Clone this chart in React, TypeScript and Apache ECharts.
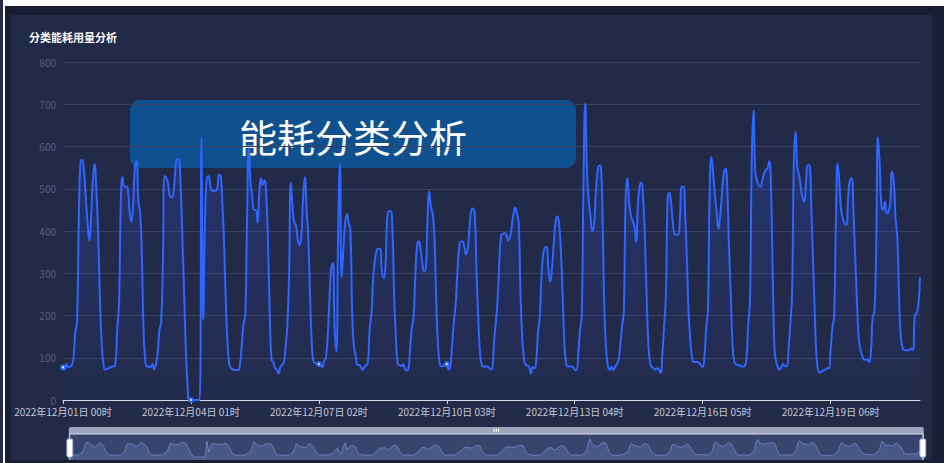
import React, { useEffect, useRef } from "react";
import * as echarts from "echarts";

// Hourly consumption, one array per day (December 2022)
const day01 = [77, 72, 85, 78, 79, 82, 100, 160, 185, 420, 565, 568, 540, 480, 420, 378, 430, 520, 558, 500, 400, 250, 140, 88];
const day02 = [72, 73, 75, 78, 79, 79, 90, 170, 230, 470, 527, 505, 505, 500, 445, 422, 465, 550, 565, 470, 445, 340, 160, 92];
const day03 = [79, 79, 78, 85, 72, 85, 110, 165, 185, 330, 530, 525, 512, 482, 480, 490, 537, 570, 570, 520, 400, 270, 130, 40];
const day04 = [0, 0, 0, 0, 0, 0, 0, 622, 190, 420, 525, 530, 510, 495, 495, 495, 500, 533, 530, 460, 360, 220, 125, 82];
const day05 = [75, 72, 71, 71, 71, 85, 130, 180, 200, 420, 596, 515, 480, 450, 450, 420, 490, 525, 510, 520, 480, 370, 200, 95];
const day06 = [90, 75, 72, 63, 78, 83, 88, 125, 175, 300, 515, 455, 420, 412, 380, 367, 390, 480, 527, 450, 380, 245, 130, 90];
const day07 = [88, 85, 85, 83, 78, 92, 100, 150, 235, 310, 325, 170, 115, 400, 560, 290, 360, 420, 440, 420, 400, 205, 126, 106];
const day08 = [83, 83, 78, 71, 79, 82, 90, 170, 205, 290, 330, 355, 358, 358, 305, 288, 320, 430, 447, 447, 400, 240, 145, 85];
const day09 = [83, 80, 85, 75, 70, 72, 118, 170, 195, 290, 365, 375, 360, 325, 305, 310, 430, 493, 455, 440, 380, 230, 130, 85];
const day10 = [80, 80, 85, 85, 72, 80, 130, 185, 225, 300, 360, 375, 375, 362, 345, 360, 412, 450, 453, 434, 300, 190, 110, 82];
const day11 = [79, 79, 79, 77, 72, 75, 140, 185, 240, 330, 390, 393, 395, 390, 377, 385, 410, 440, 455, 440, 420, 260, 150, 100];
const day12 = [83, 82, 78, 63, 78, 75, 92, 160, 195, 290, 345, 360, 362, 310, 280, 310, 370, 420, 435, 420, 360, 260, 145, 88];
const day13 = [79, 79, 79, 78, 72, 71, 110, 165, 200, 520, 702, 540, 473, 435, 400, 415, 490, 540, 555, 550, 400, 200, 115, 78];
const day14 = [72, 78, 71, 78, 85, 95, 130, 175, 210, 470, 525, 470, 437, 425, 412, 375, 460, 505, 515, 480, 390, 250, 134, 88];
const day15 = [78, 75, 72, 75, 72, 64, 110, 175, 250, 475, 490, 465, 420, 392, 391, 391, 430, 505, 505, 440, 330, 205, 140, 100];
const day16 = [90, 90, 90, 88, 82, 78, 105, 170, 215, 500, 575, 535, 485, 445, 405, 437, 490, 535, 548, 505, 363, 252, 134, 91];
const day17 = [85, 82, 83, 79, 79, 80, 100, 180, 240, 570, 685, 540, 520, 508, 505, 520, 535, 544, 548, 565, 500, 290, 120, 90];
const day18 = [77, 72, 79, 85, 80, 80, 120, 180, 250, 560, 635, 550, 533, 505, 478, 470, 520, 556, 555, 450, 330, 200, 100, 68];
const day19 = [65, 68, 70, 72, 75, 75, 120, 170, 200, 420, 560, 515, 450, 430, 418, 415, 480, 520, 525, 450, 340, 235, 150, 120];
const day20 = [105, 95, 95, 95, 90, 115, 195, 210, 363, 622, 560, 458, 450, 470, 442, 446, 465, 540, 520, 434, 387, 252, 150, 126];
const day21 = [118, 118, 118, 118, 122, 118, 200, 205, 222, 290];

const usage: number[] = [
  ...day01, ...day02, ...day03, ...day04, ...day05, ...day06, ...day07,
  ...day08, ...day09, ...day10, ...day11, ...day12, ...day13, ...day14,
  ...day15, ...day16, ...day17, ...day18, ...day19, ...day20, ...day21,
];

// Hour stamps: 2022年12月DD日 HH时
const pad2 = (n: number) => (n < 10 ? "0" + n : String(n));
const hourLabels: string[] = usage.map(
  (_, i) => `2022年12月${pad2(Math.floor(i / 24) + 1)}日 ${pad2(i % 24)}时`
);

const chartTitle = "分类能耗用量分析";
const bannerText = "能耗分类分析";
const yTicks = { min: 0, max: 800, step: 100 };
const labelEvery = 72;
// labelled hours that carry no marker dot
const unmarkedHours = [292, 365, 438];

const FONT = '"Noto Sans CJK SC", "Noto Sans", sans-serif';

function EnergyChart() {
  const ref = useRef<HTMLDivElement>(null);

  useEffect(() => {
    if (!ref.current) return;
    const chart = echarts.init(ref.current, undefined, { renderer: "svg" });
    const seriesData = usage.map((v, i) =>
      unmarkedHours.indexOf(i) >= 0 ? { value: v, symbol: "none" } : v
    );
    chart.setOption({
      animation: false,
      backgroundColor: "transparent",
      textStyle: { fontFamily: FONT },
      title: {
        text: chartTitle,
        left: 18,
        top: 16,
        padding: 0,
        textStyle: { color: "#ffffff", fontSize: 11, fontWeight: "bold", fontFamily: FONT },
      },
      grid: { left: 52, right: 12, top: 47, bottom: 60 },
      xAxis: {
        type: "category",
        data: hourLabels,
        boundaryGap: false,
        axisLine: { lineStyle: { color: "#d4d8e4", width: 1 } },
        axisTick: { show: true, interval: labelEvery, length: 4, lineStyle: { color: "#d4d8e4" } },
        axisLabel: { interval: labelEvery, color: "#c2c6d2", fontSize: 10, margin: 6, fontFamily: FONT },
        splitLine: { show: false },
      },
      yAxis: {
        type: "value",
        min: yTicks.min,
        max: yTicks.max,
        interval: yTicks.step,
        axisLine: { show: false },
        axisTick: { show: false },
        axisLabel: { color: "#565d7e", fontSize: 10, margin: 7, fontFamily: FONT },
        splitLine: { lineStyle: { color: "#3a4062", width: 1 } },
      },
      dataZoom: [
        {
          type: "slider",
          start: 0,
          end: 100,
          left: 55,
          right: 11,
          top: 412,
          height: 29,
          showDetail: false,
          backgroundColor: "rgba(47,69,84,0)",
          borderColor: "#d2dbee",
          fillerColor: "rgba(135,175,255,0.2)",
          dataBackground: {
            lineStyle: { color: "#d2dbee", width: 0.5 },
            areaStyle: { color: "#d2dbee", opacity: 0.2 },
          },
          selectedDataBackground: {
            lineStyle: { color: "#8fb0f7", width: 0.5 },
            areaStyle: { color: "#8fb0f7", opacity: 0.2 },
          },
          handleIcon:
            "path://M-9.35,34.56V42m0-40V9.5m-2,0h4a2,2,0,0,1,2,2v21a2,2,0,0,1-2,2h-4a2,2,0,0,1-2-2v-21A2,2,0,0,1-11.35,9.5Z",
          handleSize: "100%",
          handleStyle: { color: "#ffffff", borderColor: "#acb8d1" },
          moveHandleSize: 7,
          moveHandleStyle: { color: "#d2dbee", opacity: 0.7 },
        },
      ],
      series: [
        {
          name: chartTitle,
          type: "line",
          data: seriesData,
          smooth: true,
          symbol: "emptyCircle",
          symbolSize: 4,
          lineStyle: { color: "#2f66ff", width: 2 },
          itemStyle: { color: "#2f66ff" },
          areaStyle: {
            color: new echarts.graphic.LinearGradient(0, 0, 0, 1, [
              { offset: 0, color: "rgba(45,85,235,0.4)" },
              { offset: 1, color: "rgba(45,85,235,0.02)" },
            ]),
          },
        },
      ],
      graphic: [
        {
          type: "group",
          left: 119,
          top: 85,
          z: 100,
          children: [
            {
              type: "rect",
              shape: { x: 0, y: 0, width: 446, height: 68, r: 10 },
              style: { fill: "rgba(10,95,165,0.75)" },
            },
            {
              type: "text",
              x: 223,
              y: 35,
              style: {
                text: bannerText,
                fill: "#ffffff",
                fontSize: 38,
                fontFamily: FONT,
                align: "center",
                verticalAlign: "middle",
              },
            },
          ],
        },
      ],
    });
    return () => chart.dispose();
  }, []);

  return <div ref={ref} style={{ width: 921, height: 445 }} />;
}

export default function App() {
  return (
    <div
      style={{
        position: "fixed",
        left: 0,
        top: 0,
        width: 944,
        height: 463,
        background: "#ffffff",
        overflow: "hidden",
      }}
    >
      <div style={{ position: "absolute", left: 0, top: 0, width: 3, height: 463, background: "#252b49" }} />
      <div style={{ position: "absolute", left: 5, top: 6, width: 939, height: 457, background: "#1a1e34" }} />
      <div style={{ position: "absolute", left: 11, top: 15, width: 921, height: 445, background: "#232a48" }}>
        <EnergyChart />
      </div>
    </div>
  );
}
